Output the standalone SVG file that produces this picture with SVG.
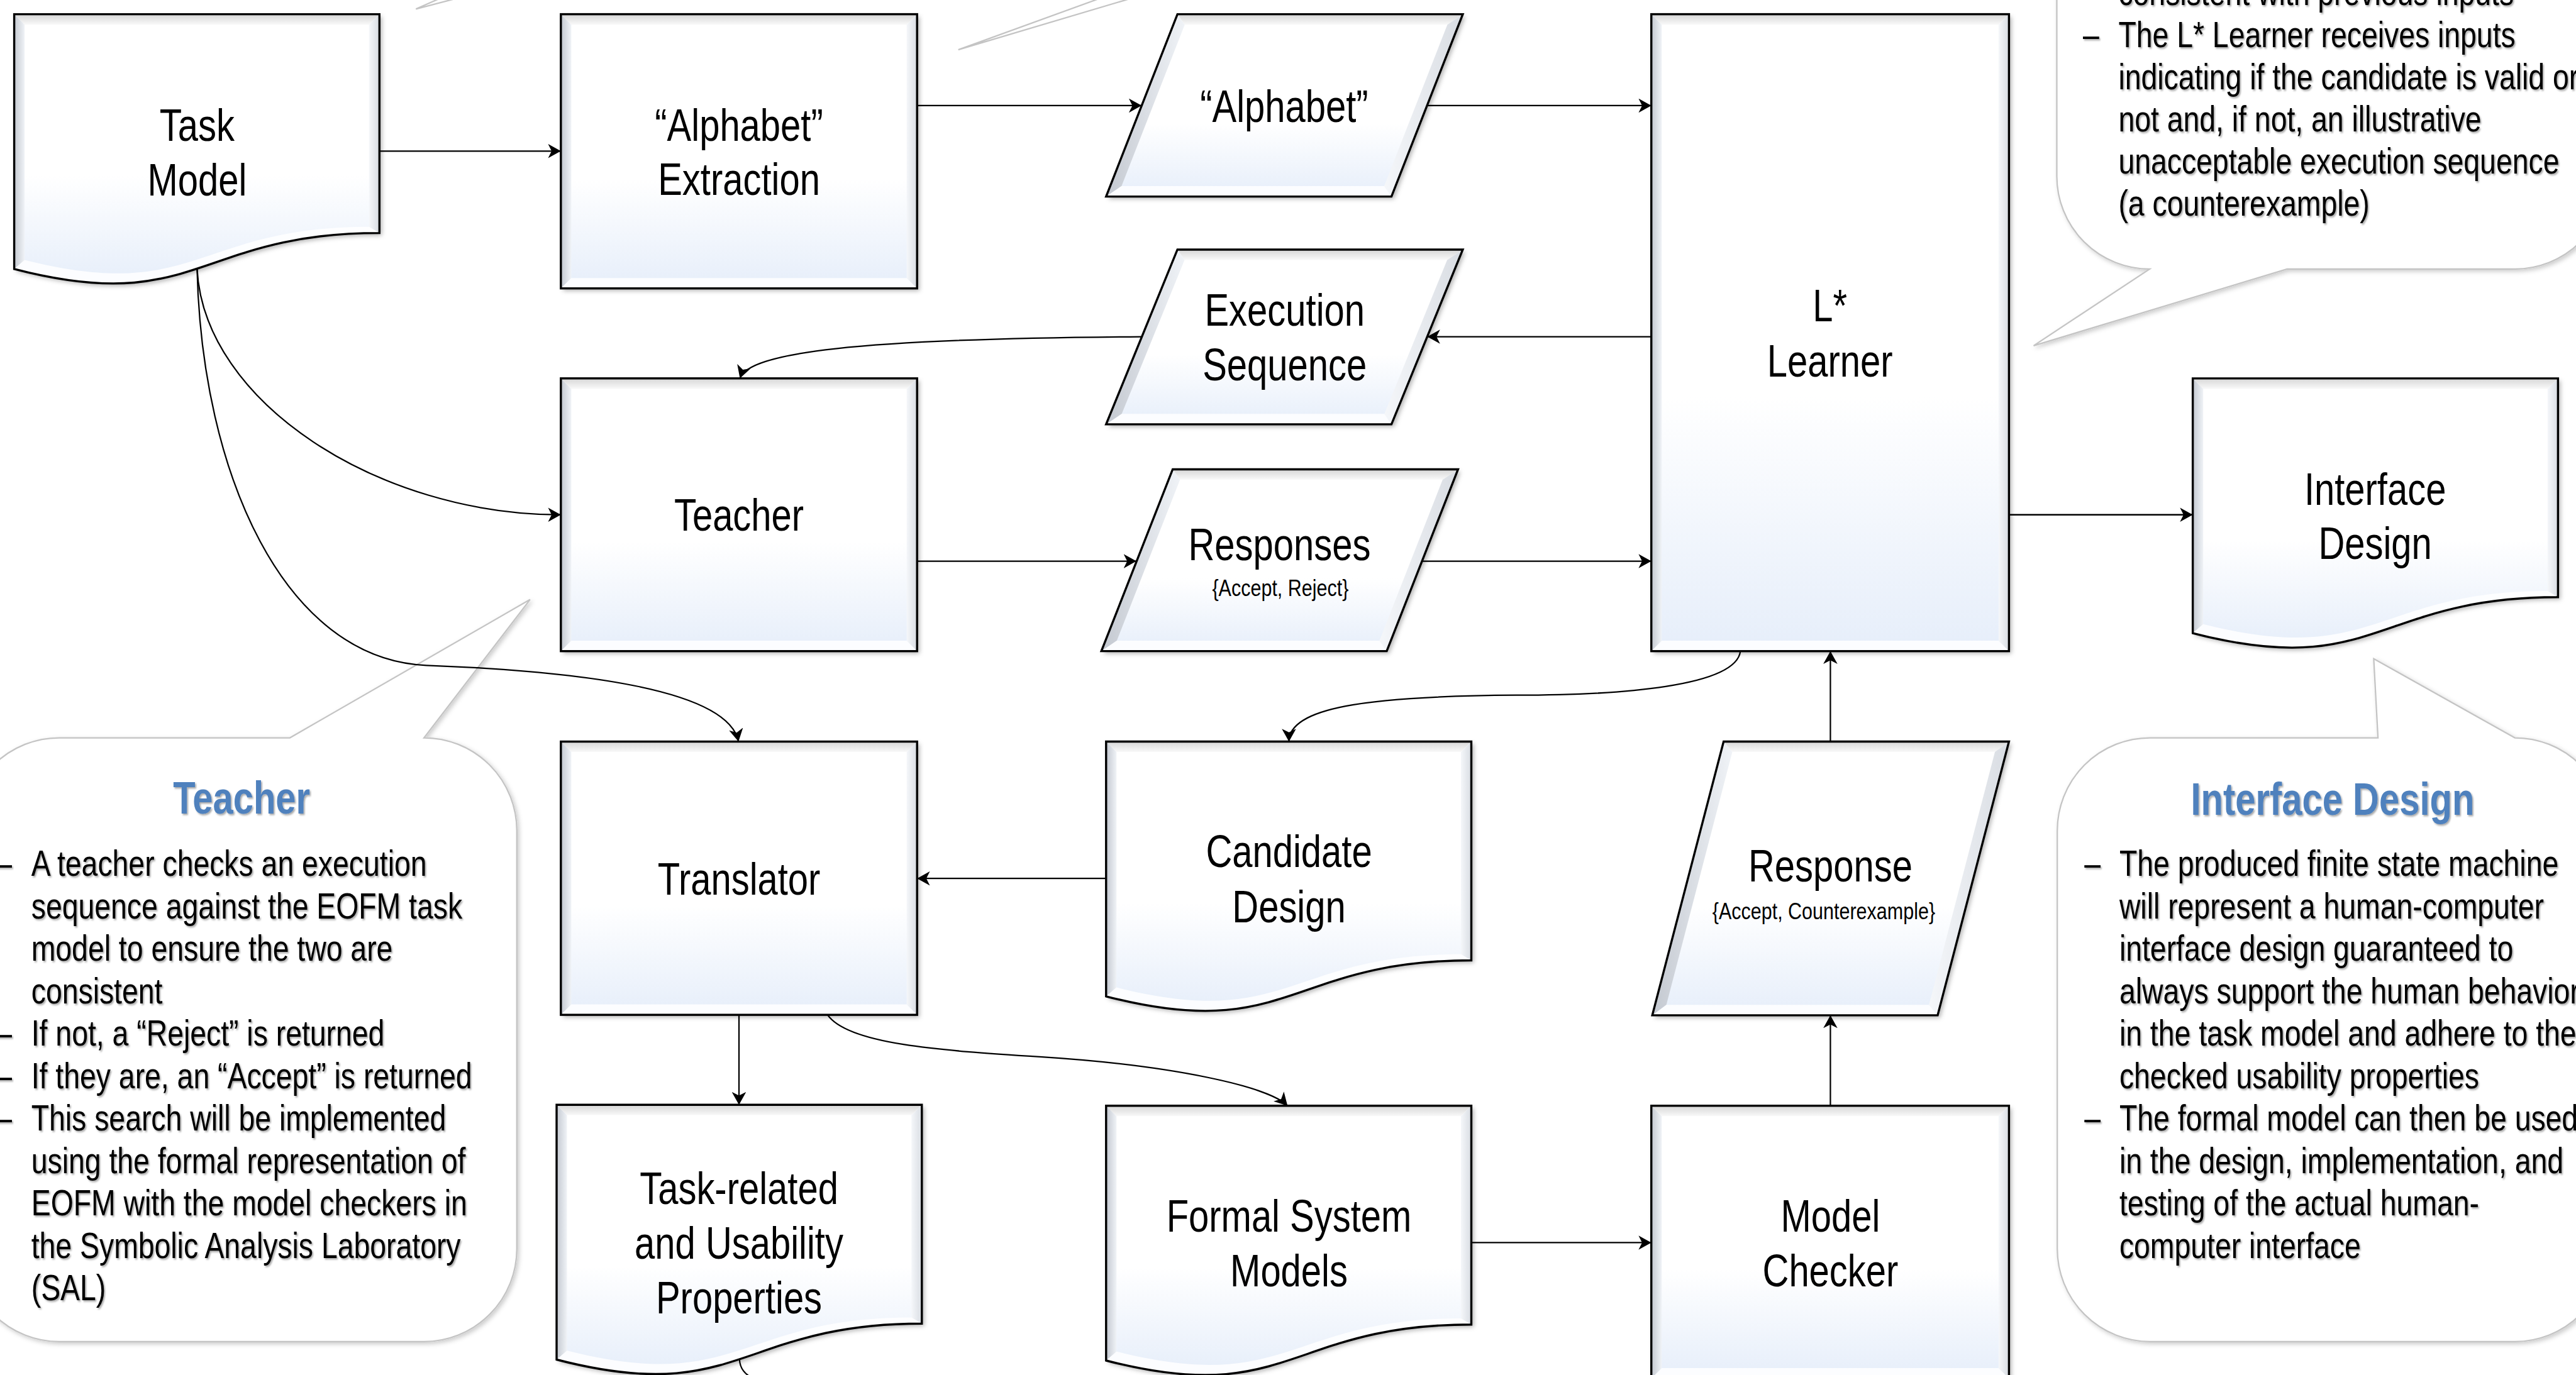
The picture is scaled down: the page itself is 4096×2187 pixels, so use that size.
<svg xmlns="http://www.w3.org/2000/svg" width="4096" height="2187" viewBox="0 0 4096 2187">
<defs>
<linearGradient id="gf" x1="0" y1="0" x2="0" y2="1"><stop offset="0" stop-color="#ffffff"/><stop offset="0.6" stop-color="#ffffff"/><stop offset="1" stop-color="#e6eefa"/></linearGradient>
<linearGradient id="gbt" x1="0" y1="0" x2="0" y2="1"><stop offset="0" stop-color="#d6d6d6"/><stop offset="1" stop-color="#f9f9f9"/></linearGradient>
<linearGradient id="gbl" x1="0" y1="0" x2="1" y2="0"><stop offset="0" stop-color="#c3c8d0"/><stop offset="1" stop-color="#f0f3f7"/></linearGradient>
<linearGradient id="gbr" x1="0" y1="0" x2="1" y2="0"><stop offset="0" stop-color="#f5f7fa"/><stop offset="1" stop-color="#d8dce2"/></linearGradient>
<filter id="sh" x="-5%" y="-5%" width="115%" height="115%"><feDropShadow dx="5" dy="5" stdDeviation="5" flood-color="#000" flood-opacity="0.3"/></filter>
<filter id="bs" x="-5%" y="-5%" width="115%" height="115%"><feDropShadow dx="4" dy="4" stdDeviation="5" flood-color="#000" flood-opacity="0.2"/></filter>
<filter id="ts" x="-5%" y="-20%" width="115%" height="150%"><feDropShadow dx="3" dy="3" stdDeviation="2" flood-color="#000" flood-opacity="0.35"/></filter>
<marker id="ah" viewBox="0 0 9 10" refX="9" refY="5" markerWidth="9" markerHeight="10" orient="auto" markerUnits="strokeWidth"><path d="M0,0 L9,5 L0,10 L2.5,5 Z" fill="#000"/></marker>
<style>
.n{fill:url(#gf);stroke:none;filter:url(#sh)}
.o{fill:none;stroke:#000;stroke-width:4.5;stroke-linejoin:miter}
.k1{fill:url(#gbt)}
.k2{fill:url(#gbl)}
.k3{fill:url(#gbr)}
.k4{fill:#ffffff;fill-opacity:0.85}
.t{font-family:'Liberation Sans Narrow','Arial Narrow','Liberation Sans',Arial,sans-serif;font-size:95px;text-anchor:middle;fill:#000}
.s{font-size:50px}
.tx{font-family:'Liberation Sans Narrow','Arial Narrow','Liberation Sans',Arial,sans-serif;font-size:76px;fill:#000;filter:url(#ts)}
.h{font-family:'Liberation Sans Narrow','Arial Narrow','Liberation Sans',Arial,sans-serif;font-size:95px;font-weight:bold;fill:#4F81BD;text-anchor:middle;filter:url(#ts)}
.c{fill:none;stroke:#000;stroke-width:3;marker-end:url(#ah)}
.cn{fill:none;stroke:#000;stroke-width:3}
.cb{fill:#ffffff;stroke:#c4c4c4;stroke-width:3;filter:url(#bs)}
.tl{fill:none;stroke:#c4c4c4;stroke-width:3}
</style>
</defs>
<rect x="0" y="0" width="4096" height="2187" fill="#ffffff"/>
<g transform="scale(0.753218)">

<g id="callouts">
<g id="callout-task-model"><path class="tl" d="M964,-19 L878,19 L1024,-19"/></g>
<g id="callout-alphabet"><path class="tl" d="M2340,-10 L2023,105 L2410,-10"/></g>
<g id="callout-learner">
<path class="cb" d="M4538,-707 L5309,-707 A196,196 0 0 1 5505,-511 L5505,372 A196,196 0 0 1 5309,568 L4828,568 L4293,730 L4538,568 A196,196 0 0 1 4342,372 L4342,-511 A196,196 0 0 1 4538,-707 Z"/>
<text class="tx" transform="translate(4472 10) scale(0.81 1)">consistent with previous inputs</text>
<text class="tx" transform="translate(4397 100) scale(0.81 1)">–</text><text class="tx" transform="translate(4472 100) scale(0.81 1)">The L* Learner receives inputs</text>
<text class="tx" transform="translate(4472 189) scale(0.81 1)">indicating if the candidate is valid or</text>
<text class="tx" transform="translate(4472 278) scale(0.81 1)">not and, if not, an illustrative</text>
<text class="tx" transform="translate(4472 367) scale(0.81 1)">unacceptable execution sequence</text>
<text class="tx" transform="translate(4472 456) scale(0.81 1)">(a counterexample)</text>
</g>
<g id="callout-teacher">
<path class="cb" d="M125,1558 L612,1558 L1119,1266 L895,1558 A196,196 0 0 1 1091,1754 L1091,2637 A196,196 0 0 1 895,2833 L125,2833 A196,196 0 0 1 -71,2637 L-71,1754 A196,196 0 0 1 125,1558 Z"/>
<text class="h" transform="translate(510 1718) scale(0.81 1)">Teacher</text>
<text class="tx" transform="translate(-9 1850) scale(0.81 1)">–</text><text class="tx" transform="translate(66 1850) scale(0.81 1)">A teacher checks an execution</text>
<text class="tx" transform="translate(66 1940) scale(0.81 1)">sequence against the EOFM task</text>
<text class="tx" transform="translate(66 2029) scale(0.81 1)">model to ensure the two are</text>
<text class="tx" transform="translate(66 2119) scale(0.81 1)">consistent</text>
<text class="tx" transform="translate(-9 2208) scale(0.81 1)">–</text><text class="tx" transform="translate(66 2208) scale(0.81 1)">If not, a “Reject” is returned</text>
<text class="tx" transform="translate(-9 2298) scale(0.81 1)">–</text><text class="tx" transform="translate(66 2298) scale(0.81 1)">If they are, an “Accept” is returned</text>
<text class="tx" transform="translate(-9 2387) scale(0.81 1)">–</text><text class="tx" transform="translate(66 2387) scale(0.81 1)">This search will be implemented</text>
<text class="tx" transform="translate(66 2477) scale(0.81 1)">using the formal representation of</text>
<text class="tx" transform="translate(66 2566) scale(0.81 1)">EOFM with the model checkers in</text>
<text class="tx" transform="translate(66 2656) scale(0.81 1)">the Symbolic Analysis Laboratory</text>
<text class="tx" transform="translate(66 2745) scale(0.81 1)">(SAL)</text>
</g>
<g id="callout-interface">
<path class="cb" d="M4539,1558 L5020,1558 L5011,1391 L5309,1558 A196,196 0 0 1 5505,1754 L5505,2637 A196,196 0 0 1 5309,2833 L4539,2833 A196,196 0 0 1 4343,2637 L4343,1754 A196,196 0 0 1 4539,1558 Z"/>
<text class="h" transform="translate(4924 1720) scale(0.81 1)">Interface Design</text>
<text class="tx" transform="translate(4400 1850) scale(0.81 1)">–</text><text class="tx" transform="translate(4474 1850) scale(0.81 1)">The produced finite state machine</text>
<text class="tx" transform="translate(4474 1940) scale(0.81 1)">will represent a human-computer</text>
<text class="tx" transform="translate(4474 2029) scale(0.81 1)">interface design guaranteed to</text>
<text class="tx" transform="translate(4474 2119) scale(0.81 1)">always support the human behavior</text>
<text class="tx" transform="translate(4474 2208) scale(0.81 1)">in the task model and adhere to the</text>
<text class="tx" transform="translate(4474 2298) scale(0.81 1)">checked usability properties</text>
<text class="tx" transform="translate(4400 2387) scale(0.81 1)">–</text><text class="tx" transform="translate(4474 2387) scale(0.81 1)">The formal model can then be used</text>
<text class="tx" transform="translate(4474 2477) scale(0.81 1)">in the design, implementation, and</text>
<text class="tx" transform="translate(4474 2566) scale(0.81 1)">testing of the actual human-</text>
<text class="tx" transform="translate(4474 2656) scale(0.81 1)">computer interface</text>
</g>
</g>

<g id="connectors">
<path class="c" d="M801,319 H1184"/>
<path class="c" d="M1936,223 H2410"/>
<path class="c" d="M3012,223 H3486"/>
<path class="c" d="M3486,711 H3013"/>
<path class="c" d="M2410,711 C1800,715 1580,745 1562,799"/>
<path class="c" d="M416,567 C430,850 800,1087 1184,1087"/>
<path class="c" d="M416,567 C426,1000 600,1392 900,1405 C1300,1420 1540,1470 1559,1566"/>
<path class="c" d="M1936,1185 H2399"/>
<path class="c" d="M3002,1185 H3486"/>
<path class="c" d="M4241,1087 H4629"/>
<path class="c" d="M3674,1375 C3665,1450 3420,1468 3200,1468 C2880,1470 2721,1495 2721,1566"/>
<path class="c" d="M2335,1855 H1936"/>
<path class="c" d="M1560,2143 V2333"/>
<path class="c" d="M1747,2143 C1790,2205 1980,2218 2200,2232 C2480,2250 2680,2295 2718,2335"/>
<path class="c" d="M3106,2624 H3486"/>
<path class="c" d="M3864,2335 V2144"/>
<path class="c" d="M3864,1566 V1375"/>
<path class="cn" d="M1561,2870 C1562,2890 1572,2902 1592,2912"/>
</g>

<g id="task-model">
<path class="n" d="M30,30 H801 V492 C415.5,492 415.5,668 30,568 Z"/>
<path class="k1" d="M30,30 L801,30 L779,52 L52,52Z"/>
<path class="k2" d="M30,30 L52,52 L52,549 L30,568Z"/>
<path class="k3" d="M801,30 L801,492 L779,479 L779,52Z"/>
<path class="k4" d="M30,568 C415.5,668 415.5,492 801,492 L779,479 C415.5,479 415.5,641 52,549Z"/>
<path class="o" d="M30,30 H801 V492 C415.5,492 415.5,668 30,568 Z"/>
<text class="t" transform="translate(416 298) scale(0.81 1)">Task</text><text class="t" transform="translate(416 413) scale(0.81 1)">Model</text>
</g>

<g id="alphabet-extraction">
<rect class="n" x="1184" y="30" width="752" height="579"/>
<path class="k1" d="M1184,30 L1936,30 L1914,52 L1206,52Z"/>
<path class="k2" d="M1184,30 L1206,52 L1206,587 L1184,609Z"/>
<path class="k3" d="M1936,30 L1936,609 L1914,587 L1914,52Z"/>
<path class="k4" d="M1184,609 L1206,587 L1914,587 L1936,609Z"/>
<rect class="o" x="1184" y="30" width="752" height="579"/>
<text class="t" transform="translate(1560 297) scale(0.81 1)">“Alphabet”</text><text class="t" transform="translate(1560 412) scale(0.81 1)">Extraction</text>
</g>

<g id="alphabet">
<path class="n" d="M2485.6,30 L3088,30 L2937.4,415 L2335,415Z"/>
<path class="k1" d="M2485.6,30 L3088,30 L3055.4,52 L2501,52Z"/>
<path class="k2" d="M2485.6,30 L2501,52 L2367.6,393 L2335,415Z"/>
<path class="k3" d="M3088,30 L2937.4,415 L2922,393 L3055.4,52Z"/>
<path class="k4" d="M2335,415 L2367.6,393 L2922,393 L2937.4,415Z"/>
<path class="o" d="M2485.6,30 L3088,30 L2937.4,415 L2335,415Z"/>
<text class="t" transform="translate(2711 257) scale(0.81 1)">“Alphabet”</text>
</g>

<g id="learner">
<rect class="n" x="3486" y="30" width="755" height="1345"/>
<path class="k1" d="M3486,30 L4241,30 L4219,52 L3508,52Z"/>
<path class="k2" d="M3486,30 L3508,52 L3508,1353 L3486,1375Z"/>
<path class="k3" d="M4241,30 L4241,1375 L4219,1353 L4219,52Z"/>
<path class="k4" d="M3486,1375 L3508,1353 L4219,1353 L4241,1375Z"/>
<rect class="o" x="3486" y="30" width="755" height="1345"/>
<text class="t" transform="translate(3863 679) scale(0.81 1)">L*</text><text class="t" transform="translate(3863 795) scale(0.81 1)">Learner</text>
</g>

<g id="execution-sequence">
<path class="n" d="M2485.6,527 L3088,527 L2937.4,896 L2335,896Z"/>
<path class="k1" d="M2485.6,527 L3088,527 L3055,549 L2500.6,549Z"/>
<path class="k2" d="M2485.6,527 L2500.6,549 L2368,874 L2335,896Z"/>
<path class="k3" d="M3088,527 L2937.4,896 L2922.4,874 L3055,549Z"/>
<path class="k4" d="M2335,896 L2368,874 L2922.4,874 L2937.4,896Z"/>
<path class="o" d="M2485.6,527 L3088,527 L2937.4,896 L2335,896Z"/>
<text class="t" transform="translate(2712 688) scale(0.81 1)">Execution</text><text class="t" transform="translate(2712 803) scale(0.81 1)">Sequence</text>
</g>

<g id="teacher">
<rect class="n" x="1184" y="799" width="752" height="576"/>
<path class="k1" d="M1184,799 L1936,799 L1914,821 L1206,821Z"/>
<path class="k2" d="M1184,799 L1206,821 L1206,1353 L1184,1375Z"/>
<path class="k3" d="M1936,799 L1936,1375 L1914,1353 L1914,821Z"/>
<path class="k4" d="M1184,1375 L1206,1353 L1914,1353 L1936,1375Z"/>
<rect class="o" x="1184" y="799" width="752" height="576"/>
<text class="t" transform="translate(1560 1121) scale(0.81 1)">Teacher</text>
</g>

<g id="responses">
<path class="n" d="M2475.6,991 L3078,991 L2927.4,1375 L2325,1375Z"/>
<path class="k1" d="M2475.6,991 L3078,991 L3045.4,1013 L2491,1013Z"/>
<path class="k2" d="M2475.6,991 L2491,1013 L2357.6,1353 L2325,1375Z"/>
<path class="k3" d="M3078,991 L2927.4,1375 L2912,1353 L3045.4,1013Z"/>
<path class="k4" d="M2325,1375 L2357.6,1353 L2912,1353 L2927.4,1375Z"/>
<path class="o" d="M2475.6,991 L3078,991 L2927.4,1375 L2325,1375Z"/>
<text class="t" transform="translate(2701 1183) scale(0.81 1)">Responses</text><text class="t s" transform="translate(2703 1259) scale(0.81 1)">{Accept, Reject}</text>
</g>

<g id="interface-design">
<path class="n" d="M4629,799 H5400 V1261 C5014.5,1261 5014.5,1437 4629,1337Z"/>
<path class="k1" d="M4629,799 L5400,799 L5378,821 L4651,821Z"/>
<path class="k2" d="M4629,799 L4651,821 L4651,1318 L4629,1337Z"/>
<path class="k3" d="M5400,799 L5400,1261 L5378,1248 L5378,821Z"/>
<path class="k4" d="M4629,1337 C5014.5,1437 5014.5,1261 5400,1261 L5378,1248 C5014.5,1248 5014.5,1410 4651,1318Z"/>
<path class="o" d="M4629,799 H5400 V1261 C5014.5,1261 5014.5,1437 4629,1337Z"/>
<text class="t" transform="translate(5014 1066) scale(0.81 1)">Interface</text><text class="t" transform="translate(5014 1180) scale(0.81 1)">Design</text>
</g>

<g id="translator">
<rect class="n" x="1184" y="1566" width="752" height="577"/>
<path class="k1" d="M1184,1566 L1936,1566 L1914,1588 L1206,1588Z"/>
<path class="k2" d="M1184,1566 L1206,1588 L1206,2121 L1184,2143Z"/>
<path class="k3" d="M1936,1566 L1936,2143 L1914,2121 L1914,1588Z"/>
<path class="k4" d="M1184,2143 L1206,2121 L1914,2121 L1936,2143Z"/>
<rect class="o" x="1184" y="1566" width="752" height="577"/>
<text class="t" transform="translate(1560 1889) scale(0.81 1)">Translator</text>
</g>

<g id="candidate-design">
<path class="n" d="M2335,1566 H3106 V2028 C2720.5,2028 2720.5,2204 2335,2104Z"/>
<path class="k1" d="M2335,1566 L3106,1566 L3084,1588 L2357,1588Z"/>
<path class="k2" d="M2335,1566 L2357,1588 L2357,2085 L2335,2104Z"/>
<path class="k3" d="M3106,1566 L3106,2028 L3084,2015 L3084,1588Z"/>
<path class="k4" d="M2335,2104 C2720.5,2204 2720.5,2028 3106,2028 L3084,2015 C2720.5,2015 2720.5,2177 2357,2085Z"/>
<path class="o" d="M2335,1566 H3106 V2028 C2720.5,2028 2720.5,2204 2335,2104Z"/>
<text class="t" transform="translate(2721 1831) scale(0.81 1)">Candidate</text><text class="t" transform="translate(2721 1948) scale(0.81 1)">Design</text>
</g>

<g id="response">
<path class="n" d="M3638.6,1566 L4241,1566 L4090.4,2144 L3488,2144Z"/>
<path class="k1" d="M3638.6,1566 L4241,1566 L4211.3,1588 L3656.9,1588Z"/>
<path class="k2" d="M3638.6,1566 L3656.9,1588 L3517.7,2122 L3488,2144Z"/>
<path class="k3" d="M4241,1566 L4090.4,2144 L4072.1,2122 L4211.3,1588Z"/>
<path class="k4" d="M3488,2144 L3517.7,2122 L4072.1,2122 L4090.4,2144Z"/>
<path class="o" d="M3638.6,1566 L4241,1566 L4090.4,2144 L3488,2144Z"/>
<text class="t" transform="translate(3864 1861) scale(0.81 1)">Response</text><text class="t s" transform="translate(3850 1941) scale(0.81 1)">{Accept, Counterexample}</text>
</g>

<g id="task-related-properties">
<path class="n" d="M1175,2333 H1946 V2795 C1560.5,2795 1560.5,2971 1175,2871Z"/>
<path class="k1" d="M1175,2333 L1946,2333 L1924,2355 L1197,2355Z"/>
<path class="k2" d="M1175,2333 L1197,2355 L1197,2852 L1175,2871Z"/>
<path class="k3" d="M1946,2333 L1946,2795 L1924,2782 L1924,2355Z"/>
<path class="k4" d="M1175,2871 C1560.5,2971 1560.5,2795 1946,2795 L1924,2782 C1560.5,2782 1560.5,2944 1197,2852Z"/>
<path class="o" d="M1175,2333 H1946 V2795 C1560.5,2795 1560.5,2971 1175,2871Z"/>
<text class="t" transform="translate(1560 2543) scale(0.81 1)">Task-related</text><text class="t" transform="translate(1560 2658) scale(0.81 1)">and Usability</text><text class="t" transform="translate(1560 2773) scale(0.81 1)">Properties</text>
</g>

<g id="formal-system-models">
<path class="n" d="M2335,2335 H3106 V2797 C2720.5,2797 2720.5,2973 2335,2873Z"/>
<path class="k1" d="M2335,2335 L3106,2335 L3084,2357 L2357,2357Z"/>
<path class="k2" d="M2335,2335 L2357,2357 L2357,2854 L2335,2873Z"/>
<path class="k3" d="M3106,2335 L3106,2797 L3084,2784 L3084,2357Z"/>
<path class="k4" d="M2335,2873 C2720.5,2973 2720.5,2797 3106,2797 L3084,2784 C2720.5,2784 2720.5,2946 2357,2854Z"/>
<path class="o" d="M2335,2335 H3106 V2797 C2720.5,2797 2720.5,2973 2335,2873Z"/>
<text class="t" transform="translate(2721 2601) scale(0.81 1)">Formal System</text><text class="t" transform="translate(2721 2716) scale(0.81 1)">Models</text>
</g>

<g id="model-checker">
<rect class="n" x="3486" y="2335" width="755" height="576"/>
<path class="k1" d="M3486,2335 L4241,2335 L4219,2357 L3508,2357Z"/>
<path class="k2" d="M3486,2335 L3508,2357 L3508,2889 L3486,2911Z"/>
<path class="k3" d="M4241,2335 L4241,2911 L4219,2889 L4219,2357Z"/>
<path class="k4" d="M3486,2911 L3508,2889 L4219,2889 L4241,2911Z"/>
<rect class="o" x="3486" y="2335" width="755" height="576"/>
<text class="t" transform="translate(3864 2601) scale(0.81 1)">Model</text><text class="t" transform="translate(3864 2716) scale(0.81 1)">Checker</text>
</g>

</g>
</svg>
